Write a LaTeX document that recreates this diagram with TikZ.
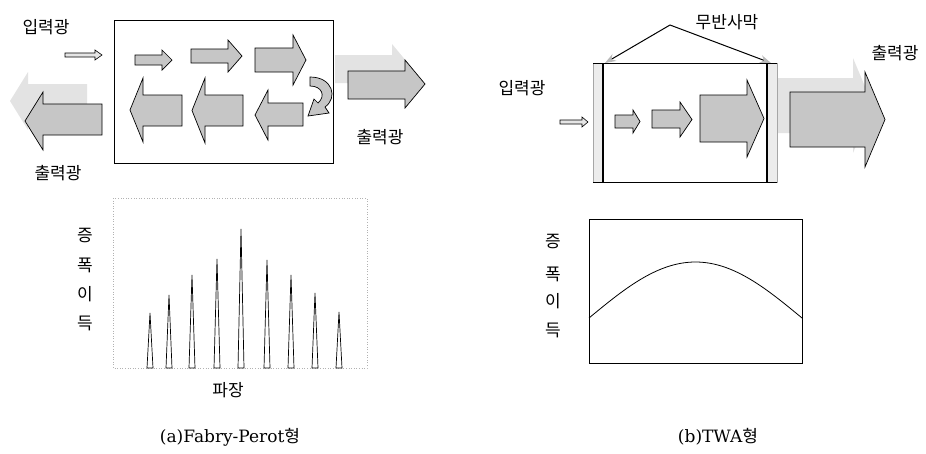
\documentclass[tikz,border=0pt]{standalone}
\usepackage{fontspec}
\setmainfont{Noto Sans CJK KR}
\newfontfamily\latf{DejaVu Serif}
\usetikzlibrary{arrows.meta}
\tikzset{
  blk/.style={draw=black, line width=0.7pt, fill=gray!45},
  shd/.style={fill=gray!22, draw=none},
  inarr/.style={draw=black, line width=0.6pt, fill=gray!20},
  lbl/.style={font=\fontsize{17}{17}\selectfont, inner sep=0pt},
  captxt/.style={font=\fontsize{17}{17}\selectfont, inner sep=0pt},
  frame/.style={draw=black, line width=0.7pt},
  dotframe/.style={draw=gray!60, dotted, line width=0.6pt},
  spk/.style={draw=black, line width=0.7pt, fill=white},
  mirror/.style={draw=gray!70, line width=0.4pt, fill=gray!15},
  mline/.style={draw=black, line width=1pt, -{Stealth[length=11pt,width=8pt,color=gray!55,fill=gray!55]}},
  curve/.style={draw=black, line width=0.8pt}
}
% style, tail x, head-base x, tip x, shaft top, shaft bottom, head top, head bottom
\newcommand\RA[8]{\draw[#1] (#2,#5) -- (#3,#5) -- (#3,#7) -- (#4,{(#7+#8)/2}) -- (#3,#8) -- (#3,#6) -- (#2,#6) -- cycle;}
\begin{document}
\begin{tikzpicture}[x=1pt,y=-1pt]
\useasboundingbox (0,0) rectangle (926,453);

% ================= (a) Fabry-Perot =================
\node[lbl] (ain) at (46,27) {입력광};
\RA{inarr}{65}{95}{102}{53}{57}{50}{60}
\draw[frame] (114,20) rectangle (333,163);
% top row (to the right)
\RA{blk}{135}{162}{172}{55}{65}{50}{70}
\RA{blk}{191}{228}{242}{49}{63}{40}{72}
\RA{blk}{255}{293}{306}{48}{72}{35}{85}
% bottom row (to the left)
\RA{blk}{182}{143}{130}{95}{126}{78}{142}
\RA{blk}{243}{205}{192}{95}{126}{78}{143}
\RA{blk}{303}{268}{255}{103}{126}{90}{140}
% curved return arrow
\draw[blk] (310,77) .. controls (333,77) and (338,98) .. (325,107) -- (329,113) -- (308,116) -- (314,99) -- (318,103) .. controls (326,96) and (322,86) .. (310,86) -- cycle;
% output right
\RA{shd}{335}{392}{412}{55}{83}{44}{92}
\RA{blk}{348}{405}{425}{71}{99}{60}{108}
\node[lbl] (aoutr) at (380,137) {출력광};
% output left
\RA{shd}{87}{28}{10}{84}{115}{72}{130}
\RA{blk}{102}{43}{25}{104}{135}{92}{150}
\node[lbl] (aoutl) at (58,173) {출력광};

% gain graph (a)
\draw[dotframe] (113,198) rectangle (367,368);
\foreach \x/\t in {150/313,169/295,192/275,217/259,241/229,267/260,291/275,315/293,339/312}{
  \draw[spk] (\x-3,368) -- (\x,\t) -- (\x+3,368) -- cycle;
}
\node[lbl] (ag1) at (85,236) {증};
\node[lbl] (ag2) at (85,265) {폭};
\node[lbl] (ag3) at (85,294) {이};
\node[lbl] (ag4) at (85,323) {득};
\node[lbl] (awl) at (228,390) {파장};
\node[captxt] (acap) at (230,437) {{\latf (a)Fabry-Perot}형};

% ================= (b) TWA =================
\node[lbl] (bin) at (522,88) {입력광};
\RA{inarr}{560}{582}{588}{120}{124}{117}{127}
\draw[mirror] (593,63) rectangle (603,182);
\draw[mirror] (767,63) rectangle (777,182);
\draw[line width=0.6pt] (593,63) -- (777,63);
\draw[line width=0.6pt] (593,182) -- (777,182);
\draw[line width=1.4pt] (603,63) -- (603,182);
\draw[line width=1.4pt] (767,63) -- (767,182);
\RA{blk}{615}{633}{640}{115}{128}{110}{133}
\RA{blk}{652}{680}{692}{110}{128}{102}{137}
\RA{blk}{700}{747}{764}{95}{142}{80}{157}
% output
\RA{shd}{778}{853}{873}{78}{133}{58}{153}
\RA{blk}{790}{865}{885}{92}{147}{72}{167}
\node[lbl] (bout) at (895,53) {출력광};
% AR coating label
\node[lbl] (bar) at (727,22) {무반사막};
\coordinate (apex) at (670,25);
\coordinate (ml) at (605,63);
\coordinate (mr) at (771,63);
\draw[mline] (apex) -- (ml);
\draw[mline] (apex) -- (mr);

% gain graph (b)
\draw[frame] (589,219) rectangle (802,363);
\draw[curve] plot[domain=589:802, samples=80] (\x, {318 - 56*sin(((\x-589)/213)*180)});
\node[lbl] (bg1) at (553,242) {증};
\node[lbl] (bg2) at (553,274) {폭};
\node[lbl] (bg3) at (553,301) {이};
\node[lbl] (bg4) at (553,330) {득};
\node[captxt] (bcap) at (718,437) {{\latf (b)TWA}형};
\end{tikzpicture}
\end{document}
